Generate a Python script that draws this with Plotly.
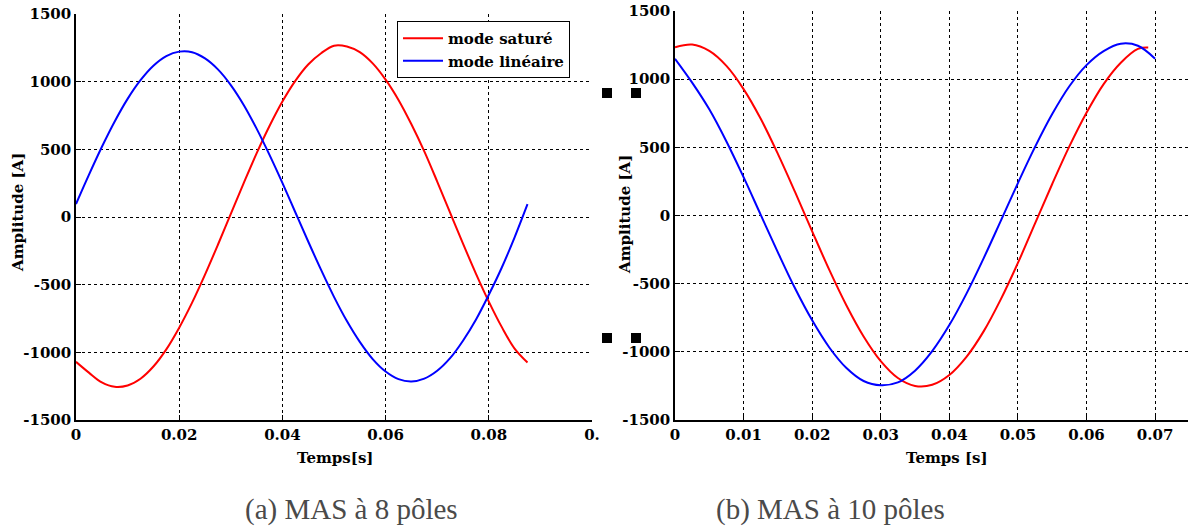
import plotly.graph_objects as go

# ---------------- data ----------------
# (a) MAS à 8 pôles
t_a = [0, 0.0025, 0.005, 0.0075, 0.01, 0.0125, 0.015, 0.0175, 0.02, 0.0225,
       0.025, 0.0275, 0.03, 0.0325, 0.035, 0.0375, 0.04, 0.0425, 0.045, 0.0475,
       0.05, 0.0525, 0.055, 0.0575, 0.06, 0.0625, 0.065, 0.0675, 0.07, 0.0725,
       0.075, 0.0775, 0.08, 0.0825, 0.085, 0.0875]
sat_a = [-1070, -1150, -1222, -1255, -1245, -1195, -1105, -978, -818, -633,
         -426, -205, 23, 250, 470, 672, 853, 1006, 1127, 1210,
         1266, 1260, 1218, 1135, 1015, 865, 685, 485, 262, 32,
         -197, -418, -625, -812, -972, -1075]
lin_a = [96, 311, 517, 706, 873, 1011, 1118, 1189, 1222, 1218,
         1172, 1091, 975, 828, 653, 459, 252, 35, -181, -391,
         -590, -769, -923, -1050, -1142, -1198, -1215, -1194, -1136, -1043,
         -914, -759, -575, -375, -150, 95]

# (b) MAS à 10 pôles
t_b_sat = [0, 0.0025, 0.005, 0.0075, 0.01, 0.0125, 0.015, 0.0175, 0.02, 0.0225,
           0.025, 0.0275, 0.03, 0.0325, 0.035, 0.0375, 0.04, 0.0425, 0.045, 0.0475,
           0.05, 0.0525, 0.055, 0.0575, 0.06, 0.0625, 0.065, 0.0675, 0.069]
sat_b = [1234, 1254, 1207, 1097, 927, 709, 452, 173, -116, -399,
         -660, -887, -1068, -1192, -1250, -1242, -1170, -1037, -850, -615,
         -348, -58, 231, 507, 754, 964, 1121, 1222, 1232]
t_b_lin = [0, 0.0025, 0.005, 0.0075, 0.01, 0.0125, 0.015, 0.0175, 0.02, 0.0225,
           0.025, 0.0275, 0.03, 0.0325, 0.035, 0.0375, 0.04, 0.0425, 0.045, 0.0475,
           0.05, 0.0525, 0.055, 0.0575, 0.06, 0.0625, 0.065, 0.0675, 0.07]
lin_b = [1150, 975, 779, 543, 281, 5, -270, -534, -769, -968,
         -1119, -1214, -1245, -1224, -1138, -995, -804, -573, -314, -39,
         238, 503, 744, 948, 1103, 1206, 1260, 1245, 1150]

series_names = ["mode saturé", "mode linéaire"]
x_ticks_a = [0, 0.02, 0.04, 0.06, 0.08, 0.1]
x_ticktext_a = ["0", "0.02", "0.04", "0.06", "0.08", "0."]
x_ticks_b = [0, 0.01, 0.02, 0.03, 0.04, 0.05, 0.06, 0.07]
x_ticktext_b = ["0", "0.01", "0.02", "0.03", "0.04", "0.05", "0.06", "0.07"]
y_ticks = [-1500, -1000, -500, 0, 500, 1000, 1500]
y_ticktext = ["-1500", "-1000", "-500", "0", "500", "1000", "1500"]
captions = ["(a) MAS à 8 pôles", "(b) MAS à 10 pôles"]

# ---------------- layout helpers ----------------
W, H = 1188, 529
def px(x):
    return x / W
def py(y):
    return 1 - y / H

FONT = "DejaVu Serif"
RED = "#ff0000"
BLUE = "#0000ff"

fig = go.Figure()
fig.add_trace(go.Scatter(x=t_a, y=sat_a, name=series_names[0], mode="lines",
                         line=dict(color=RED, width=2, shape="spline"),
                         xaxis="x", yaxis="y"))
fig.add_trace(go.Scatter(x=t_a, y=lin_a, name=series_names[1], mode="lines",
                         line=dict(color=BLUE, width=2, shape="spline"),
                         xaxis="x", yaxis="y"))
fig.add_trace(go.Scatter(x=t_b_sat, y=sat_b, name=series_names[0], mode="lines",
                         line=dict(color=RED, width=2, shape="spline"),
                         xaxis="x2", yaxis="y2", showlegend=False))
fig.add_trace(go.Scatter(x=t_b_lin, y=lin_b, name=series_names[1], mode="lines",
                         line=dict(color=BLUE, width=2, shape="spline"),
                         xaxis="x2", yaxis="y2", showlegend=False))

tickfont = dict(family=FONT, size=15, color="black", weight="bold")
common = dict(showline=True, linecolor="black", linewidth=1.5, mirror=False,
              showgrid=True, gridcolor="black", gridwidth=1, griddash="3px,3px",
              zeroline=False, ticks="inside", ticklen=5, tickcolor="black",
              tickwidth=1, tickfont=tickfont, automargin=False)

fig.update_layout(
    width=W, height=H, autosize=False,
    margin=dict(l=0, r=0, t=0, b=0, autoexpand=False),
    paper_bgcolor="white", plot_bgcolor="white",
    showlegend=True,
    legend=dict(x=px(397), y=py(21), xanchor="left", yanchor="top",
                bgcolor="white", bordercolor="black", borderwidth=1,
                font=dict(family=FONT, size=15, color="black", weight="bold"),
                itemwidth=40, tracegroupgap=0),
    xaxis=dict(domain=[px(76), px(592)], range=[0, 0.1], tickvals=x_ticks_a,
               ticktext=x_ticktext_a, anchor="y", **common),
    yaxis=dict(domain=[py(420), py(14)], range=[-1500, 1500], tickvals=y_ticks,
               ticktext=y_ticktext, anchor="x", **common),
    xaxis2=dict(domain=[px(675), px(1188)], range=[0, 0.0748], tickvals=x_ticks_b,
                ticktext=x_ticktext_b, anchor="y2", **common),
    yaxis2=dict(domain=[py(420), py(11)], range=[-1500, 1500], tickvals=y_ticks,
                ticktext=y_ticktext, anchor="x2", **common),
)

ann_font = dict(family=FONT, size=15, color="black", weight="bold")
annotations = [
    dict(text="Temps[s]", x=px(335), y=py(458)),
    dict(text="Temps [s]", x=px(947), y=py(458)),
    dict(text="Amplitude [A]", x=px(18), y=py(213), textangle=-90),
    dict(text="Amplitude [A]", x=px(625), y=py(215), textangle=-90),
]
for a in annotations:
    fig.add_annotation(xref="paper", yref="paper", showarrow=False,
                       xanchor="center", yanchor="middle", font=ann_font, **a)

cap_font = dict(family="Liberation Serif", size=29, color="#4a4a4a")
fig.add_annotation(text=captions[0], xref="paper", yref="paper", x=px(351), y=py(509),
                   showarrow=False, xanchor="center", yanchor="middle", font=cap_font)
fig.add_annotation(text=captions[1], xref="paper", yref="paper", x=px(830), y=py(509),
                   showarrow=False, xanchor="center", yanchor="middle", font=cap_font)

# small black squares between the two panels
for cx, cy in [(607, 93), (636, 93), (607, 338), (636, 338)]:
    fig.add_shape(type="rect", xref="paper", yref="paper",
                  x0=px(cx - 5), x1=px(cx + 5), y0=py(cy + 5), y1=py(cy - 5),
                  fillcolor="black", line=dict(width=0))

fig.write_html("out.html", config={"displayModeBar": False},
               post_script="document.body.style.margin='0';")
